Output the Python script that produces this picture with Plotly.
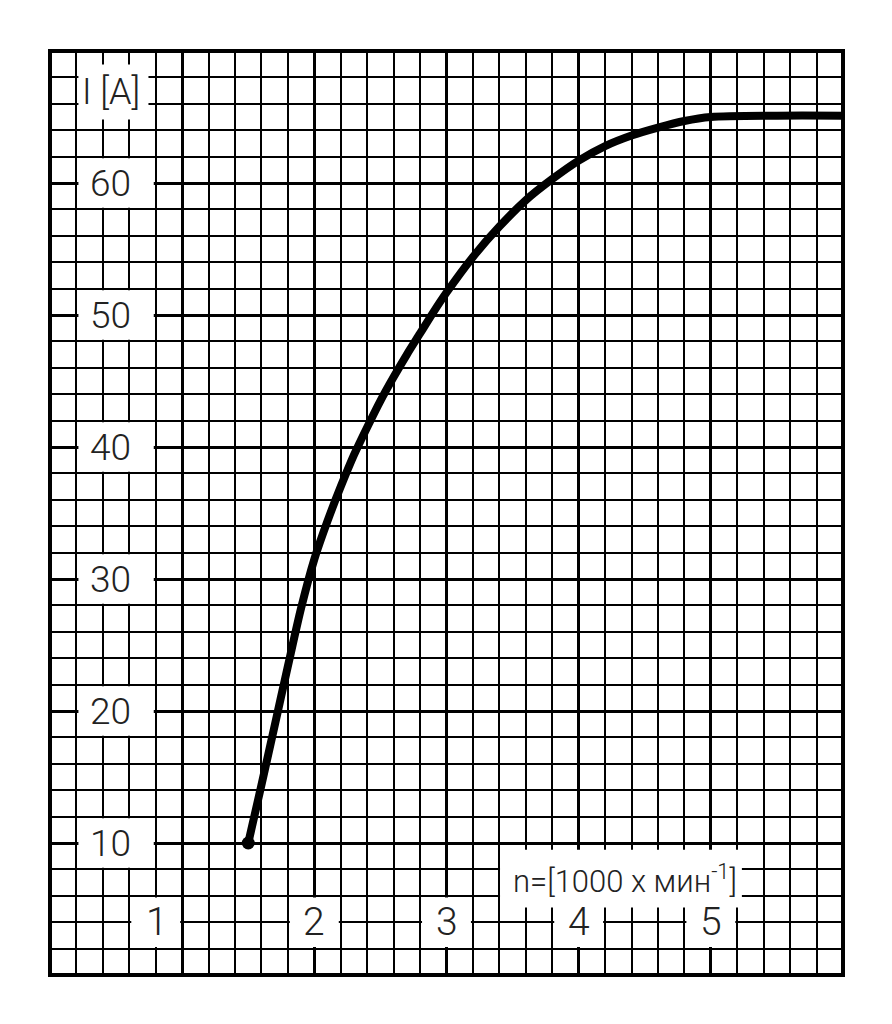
import plotly.graph_objects as go

# speed n [1000 x min^-1] and current I [A]
n_vals = [1.5, 1.6, 1.7, 1.8, 1.9, 2.0, 2.1, 2.2, 2.3, 2.4, 2.5, 2.6, 2.7, 2.8, 2.9,
          3.0, 3.2, 3.4, 3.6, 3.8, 4.0, 4.2, 4.4, 4.6, 4.8, 5.0, 5.5, 6.0]
i_vals = [10, 14.4, 18.9, 23.4, 27.8, 31.5, 34.4, 37.0, 39.4, 41.5, 43.5, 45.3, 47.0, 48.6, 50.2,
          51.7, 54.4, 56.7, 58.7, 60.3, 61.7, 62.8, 63.6, 64.2, 64.7, 65.0, 65.1, 65.1]

x_ticks = [1, 2, 3, 4, 5]
y_ticks = [10, 20, 30, 40, 50, 60]
x_title = "n=[1000 x мин<sup>-1</sup>]"
y_title = "I [A]"

FONT = "Roboto, Liberation Sans, sans-serif"
INK = "#222"

fig = go.Figure()
fig.add_trace(go.Scatter(x=n_vals, y=i_vals, mode="lines",
                         line=dict(color="black", width=8, shape="spline", smoothing=0.8),
                         hoverinfo="skip"))
# the round dot where the curve starts
fig.add_trace(go.Scatter(x=n_vals[:1], y=i_vals[:1], mode="markers",
                         marker=dict(color="black", size=13), hoverinfo="skip"))

# white patches cut out of the graph paper behind the labels (x0, x1, y0, y1)
boxes = [(0.2, 0.76, 64.7, 69.1)]
boxes += [(0.2, 0.8, v - 2, v + 2) for v in y_ticks]
boxes += [(0.6, 1.0, 2, 6), (1.8, 2.2, 2, 6), (2.8, 3.2, 2, 6), (3.8, 4.2, 2, 6), (4.8, 5.2, 2, 6)]
boxes += [(3.39, 5.25, 5.0, 9.6)]
for x0, x1, y0, y1 in boxes:
    fig.add_shape(type="rect", x0=x0 + 0.015, x1=x1 - 0.015, y0=y0 + 0.12, y1=y1 - 0.12,
                  fillcolor="white", line=dict(width=0), layer="above")

# heavy outer frame, centred on the edge of the grid
fig.add_shape(type="rect", xref="x domain", yref="y domain", x0=0, x1=1, y0=0, y1=1,
              line=dict(color="black", width=4), layer="above")

for v in y_ticks:
    fig.add_annotation(x=0.46, y=v, text=str(v), showarrow=False,
                       font=dict(family=FONT, size=37, color=INK, weight=300))
x_pos = [0.81, 2, 3, 4, 5]
for p, v in zip(x_pos, x_ticks):
    fig.add_annotation(x=p, y=4, text=str(v), showarrow=False,
                       font=dict(family=FONT, size=39, color=INK, weight=300))
fig.add_annotation(x=0.46, y=66.9, text=y_title, showarrow=False,
                   font=dict(family=FONT, size=36, color=INK, weight=300))
fig.add_annotation(x=4.35, y=7.2, text=x_title, showarrow=False,
                   font=dict(family=FONT, size=31, color=INK, weight=300))

axis = dict(showticklabels=False, ticks="", showgrid=True, gridcolor="black", gridwidth=3,
            showline=False, zeroline=False, fixedrange=True)
fig.update_xaxes(**axis, range=[0, 6], tick0=0, dtick=1,
                 minor=dict(tick0=0, dtick=0.2, showgrid=True, gridcolor="black", gridwidth=2))
fig.update_yaxes(**axis, range=[0, 70], tick0=0, dtick=10,
                 minor=dict(tick0=0, dtick=2, showgrid=True, gridcolor="black", gridwidth=2))

# the page body keeps an 8px margin, so the figure is 16px smaller than the window
fig.update_layout(width=876, height=1008, showlegend=False,
                  margin=dict(l=42, r=41, t=43, b=41),
                  paper_bgcolor="white", plot_bgcolor="white")

fig.write_html("out.html")
